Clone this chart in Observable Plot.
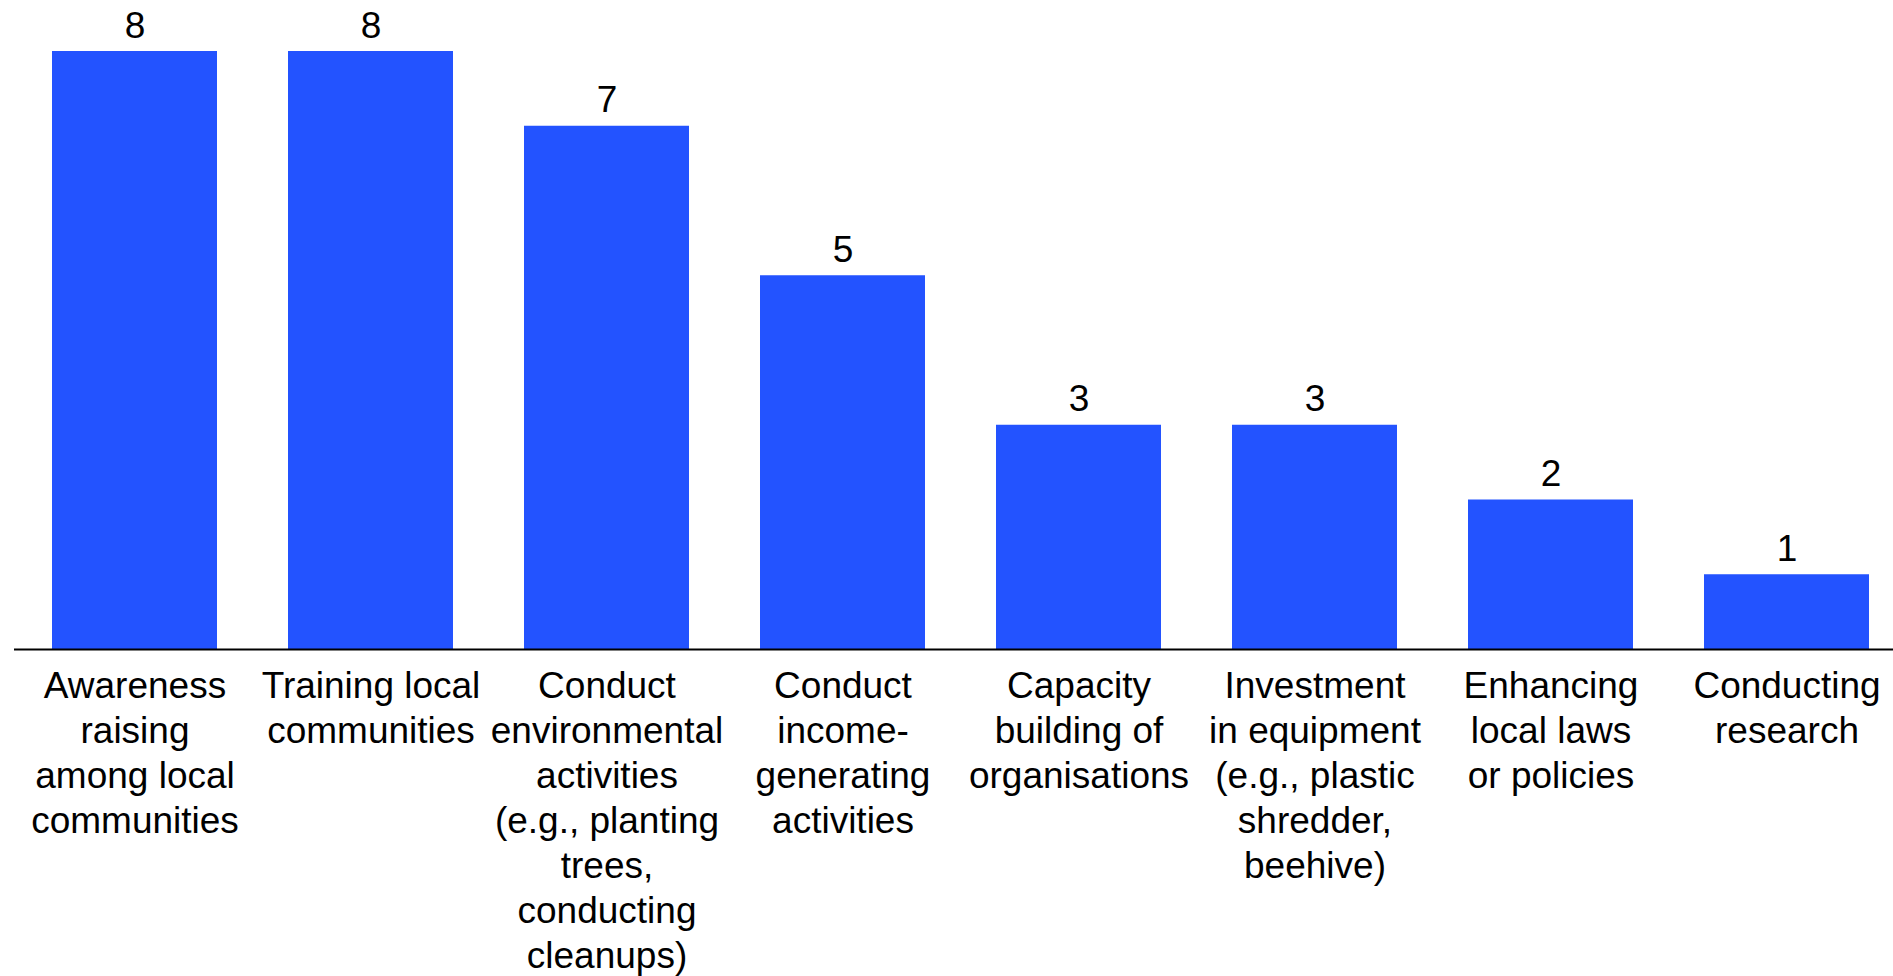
<!DOCTYPE html>
<html>
<head>
<meta charset="utf-8">
<script src="https://cdn.jsdelivr.net/npm/d3@7"></script>
<script src="https://cdn.jsdelivr.net/npm/@observablehq/plot@0.6"></script>
<style>
  html, body { margin: 0; padding: 0; background: #fff; overflow: hidden; }
  #chart svg { display: block; }
</style>
</head>
<body>
<div id="chart"></div>
<script>
const categories = [
  "Awareness raising among local communities",
  "Training local communities",
  "Conduct environmental activities (e.g., planting trees, conducting cleanups)",
  "Conduct income-generating activities",
  "Capacity building of organisations",
  "Investment in equipment (e.g., plastic shredder, beehive)",
  "Enhancing local laws or policies",
  "Conducting research"
];
const values = [8, 8, 7, 5, 3, 3, 2, 1];
const tickLabels = [
  "Awareness\nraising\namong local\ncommunities",
  "Training local\ncommunities",
  "Conduct\nenvironmental\nactivities\n(e.g., planting\ntrees,\nconducting\ncleanups)",
  "Conduct\nincome-\ngenerating\nactivities",
  "Capacity\nbuilding of\norganisations",
  "Investment\nin equipment\n(e.g., plastic\nshredder,\nbeehive)",
  "Enhancing\nlocal laws\nor policies",
  "Conducting\nresearch"
];

const data = categories.map((c, i) => ({category: c, value: values[i], label: tickLabels[i]}));
const labelOf = new Map(data.map(d => [d.category, d.label]));

const chart = Plot.plot({
  width: 1893,
  height: 976,
  marginLeft: 51,
  marginRight: 23,
  marginTop: 51,
  marginBottom: 327,
  style: {fontFamily: "'Liberation Sans', Arial, sans-serif", background: "#fff", color: "#000"},
  x: {domain: categories, paddingInner: 0.3, paddingOuter: 0, axis: null},
  y: {domain: [0, 8], axis: null},
  marks: [
    Plot.barY(data, {x: "category", y: "value", fill: "#2353FF"}),
    Plot.ruleY([0], {stroke: "#000", strokeWidth: 2, insetLeft: -37, insetRight: -23}),
    Plot.text(data, {x: "category", y: "value", text: d => String(d.value), lineAnchor: "bottom", dy: -14, fontSize: 37, fill: "#000"}),
    Plot.axisX({
      label: null,
      tickSize: 0,
      tickPadding: 17,
      fontSize: 37,
      lineHeight: 1.216,
      tickFormat: c => labelOf.get(c),
      fill: "#000"
    })
  ]
});
document.getElementById("chart").appendChild(chart);
</script>
</body>
</html>
